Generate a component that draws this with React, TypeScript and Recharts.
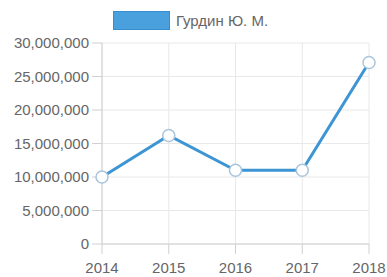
import React from "react";
import {
  LineChart,
  Line,
  XAxis,
  YAxis,
  CartesianGrid,
  Legend,
} from "recharts";

const years = ["2014", "2015", "2016", "2017", "2018"];
const amounts = [10000000, 16200000, 11000000, 11000000, 27100000];
const yTicks = [0, 5000000, 10000000, 15000000, 20000000, 25000000, 30000000];
const seriesName = "Гурдин Ю. М.";

const data = years.map((year, i) => ({ year, value: amounts[i] }));

const FONT = "'Liberation Sans', Arial, sans-serif";
const BLUE = "#3d95d3";

const LegendContent = () => (
  <div
    style={{
      display: "flex",
      alignItems: "center",
      justifyContent: "center",
      fontFamily: FONT,
      fontSize: 15,
      color: "#666",
      height: 39,
      paddingLeft: 12,
    }}
  >
    <span
      style={{
        display: "inline-block",
        width: 57,
        height: 19,
        background: "#4aa0dd",
        border: "1px solid #3a8ccc",
        boxSizing: "border-box",
        marginRight: 6,
      }}
    />
    <span>{seriesName}</span>
  </div>
);

const App: React.FC = () => {
  return (
    <div style={{ position: "absolute", left: 0, top: 0 }}>
      <LineChart
        width={387}
        height={277}
        data={data}
        margin={{ top: 1, right: 18, left: 0, bottom: 0 }}
      >
        <Legend verticalAlign="top" height={42} content={<LegendContent />} />
        <CartesianGrid stroke="#e8e8e8" />
        <XAxis
          dataKey="year"
          height={33}
          tickSize={10}
          tickMargin={8}
          stroke="#d0d0d0"
          tick={{ fill: "#666", fontSize: 15, fontFamily: FONT }}
        />
        <YAxis
          width={102}
          domain={[0, 30000000]}
          ticks={yTicks}
          tickSize={10}
          tickMargin={3}
          stroke="#d0d0d0"
          tickFormatter={(v: number) => v.toLocaleString("en-US")}
          tick={{ fill: "#666", fontSize: 15, fontFamily: FONT }}
        />
        <Line
          type="linear"
          dataKey="value"
          name={seriesName}
          stroke={BLUE}
          strokeWidth={3}
          dot={{ r: 6, fill: "#fff", stroke: "#a9c6dc", strokeWidth: 1.5 }}
          isAnimationActive={false}
        />
      </LineChart>
    </div>
  );
};

export default App;
